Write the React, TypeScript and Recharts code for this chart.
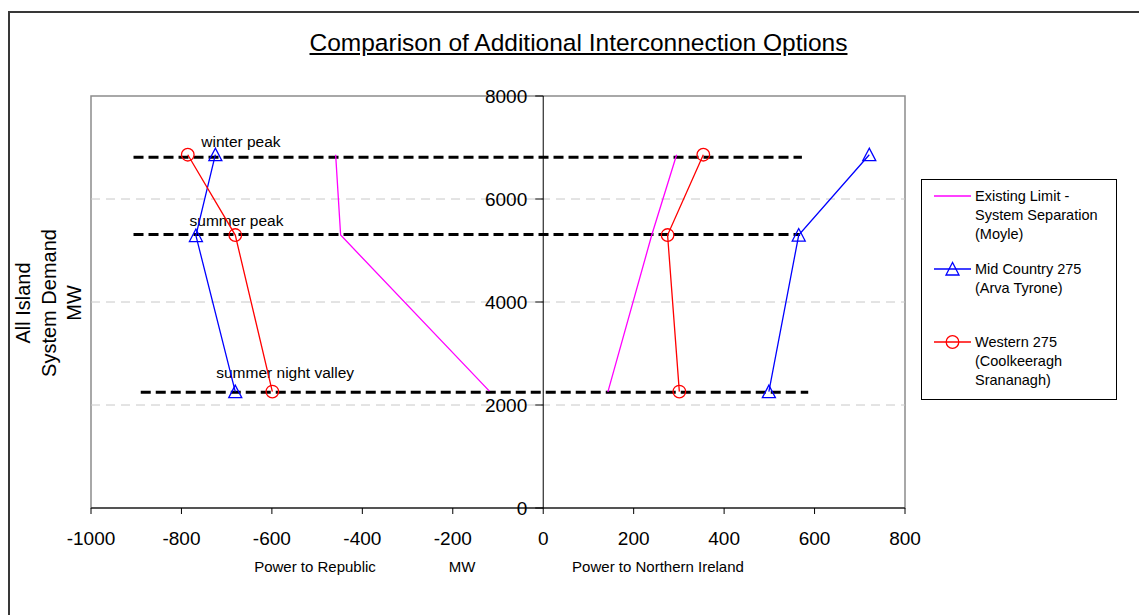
import React from 'react';
import { ScatterChart, Scatter, XAxis, YAxis, ReferenceLine, ReferenceDot, ReferenceArea } from 'recharts';

const FONT = '"Liberation Sans", Arial, sans-serif';

const xTicks = [-1000, -800, -600, -400, -200, 0, 200, 400, 600, 800];
const yTicks = [0, 2000, 4000, 6000, 8000];
const gridY = [2000, 4000, 6000];

const existingLeft = [{ x: -459, y: 6860 }, { x: -448, y: 5300 }, { x: -119, y: 2270 }];
const existingRight = [{ x: 143, y: 2255 }, { x: 240, y: 5300 }, { x: 295, y: 6860 }];
const midLeft = [{ x: -725, y: 6860 }, { x: -768, y: 5290 }, { x: -681, y: 2260 }];
const midRight = [{ x: 499, y: 2260 }, { x: 565, y: 5300 }, { x: 721, y: 6860 }];
const westLeft = [{ x: -786, y: 6860 }, { x: -681, y: 5300 }, { x: -599, y: 2260 }];
const westRight = [{ x: 301, y: 2260 }, { x: 275, y: 5300 }, { x: 354, y: 6860 }];

const levelNames = ['winter peak', 'summer peak', 'summer night valley'];
const levelY = [6810, 5310, 2250];
const levelXStart = [-906, -906, -890];
const levelXEnd = [572, 568, 586];
const labelX = [-756, -782, -723];
const labelY = [7126, 5592, 2627];

const title = 'Comparison of Additional Interconnection Options';
const yLabelLines = ['All Island', 'System Demand', 'MW'];
const legendLines = [
  ['Existing Limit -', 'System Separation', '(Moyle)'],
  ['Mid Country 275', '(Arva Tyrone)'],
  ['Western 275', '(Coolkeeragh', 'Srananagh)'],
];
const MAGENTA = '#ff00ff';
const BLUE = '#0000ff';
const RED = '#ff0000';

const Triangle = (props: any) => {
  const { cx, cy } = props;
  if (cx == null || cy == null) return <g />;
  return (
    <polygon
      points={`${cx},${cy - 6.5} ${cx - 6.5},${cy + 6} ${cx + 6.5},${cy + 6}`}
      fill="none"
      stroke={BLUE}
      strokeWidth={1.3}
    />
  );
};

const Circle = (props: any) => {
  const { cx, cy } = props;
  if (cx == null || cy == null) return <g />;
  return <circle cx={cx} cy={cy} r={6.3} fill="none" stroke={RED} strokeWidth={1.3} />;
};

const NoMarker = () => <g />;

const YTick = (value: number) => (props: any) => {
  const { cx, cy } = props;
  return (
    <g>
      <line x1={cx - 8} y1={cy} x2={cx} y2={cy} stroke="#000" strokeWidth={1} />
      <text x={cx - 16} y={cy} textAnchor="end" dominantBaseline="central" fontSize={19} fontFamily={FONT} fill="#000">
        {value}
      </text>
    </g>
  );
};

const Annot = (text: string) => (props: any) => {
  const { cx, cy } = props;
  return (
    <text x={cx} y={cy} textAnchor="start" dominantBaseline="central" fontSize={15.5} fontFamily={FONT} fill="#000">
      {text}
    </text>
  );
};

const LegendBox = () => (
  <svg width={197} height={222} style={{ position: 'absolute', left: 921, top: 179 }}>
    <rect x={0.5} y={0.5} width={195} height={220} fill="#fff" stroke="#000" strokeWidth={1} />
    <line x1={13} y1={17} x2={50} y2={17} stroke={MAGENTA} strokeWidth={1.3} />
    <line x1={13} y1={90} x2={50} y2={90} stroke={BLUE} strokeWidth={1.3} />
    <Triangle cx={31.5} cy={90} />
    <line x1={13} y1={163} x2={50} y2={163} stroke={RED} strokeWidth={1.3} />
    <Circle cx={31.5} cy={163} />
    {legendLines.map((lines, i) =>
      lines.map((t, j) => (
        <text
          key={`${i}-${j}`}
          x={54}
          y={[17, 90, 163][i] + j * 19}
          dominantBaseline="central"
          fontSize={14.5}
          fontFamily={FONT}
          fill="#000"
        >
          {t}
        </text>
      ))
    )}
  </svg>
);

export default function App() {
  return (
    <div style={{ position: 'relative', width: 1139, height: 615, overflow: 'hidden', background: '#fff', fontFamily: FONT }}>
      <style>{`body{margin:0;overflow:hidden;}`}</style>
      <div style={{ position: 'absolute', left: 8, top: 11, width: 1200, height: 700, border: '2px solid #383838' }} />
      <div
        style={{
          position: 'absolute',
          left: 0,
          width: 1157,
          top: 29,
          textAlign: 'center',
          fontSize: 24.5,
          textDecoration: 'underline',
          color: '#000',
          lineHeight: '28px',
        }}
      >
        {title}
      </div>
      <div
        style={{
          position: 'absolute',
          left: 49 - 150,
          top: 303 - 38,
          width: 300,
          height: 76,
          transform: 'rotate(-90deg)',
          textAlign: 'center',
          fontSize: 20,
          lineHeight: '25.5px',
          color: '#000',
        }}
      >
        {yLabelLines.map((l) => (
          <div key={l}>{l}</div>
        ))}
      </div>
      <div style={{ position: 'absolute', left: 0, top: 0 }}>
        <ScatterChart width={1139} height={615} margin={{ top: 96, right: 234, bottom: 62, left: 91 }}>
          <XAxis
            type="number"
            dataKey="x"
            domain={[-1000, 800]}
            ticks={xTicks}
            interval={0}
            height={45}
            axisLine={{ stroke: '#000', strokeWidth: 1 }}
            tickLine={{ stroke: '#000', strokeWidth: 1 }}
            tickSize={6}
            tickMargin={18}
            tick={{ fontSize: 19, fill: '#000', fontFamily: FONT }}
            allowDataOverflow
          />
          <YAxis type="number" dataKey="y" domain={[0, 8000]} ticks={yTicks} hide allowDataOverflow />
          <ReferenceArea x1={-1000} x2={800} y1={0} y2={8000} fill="none" stroke="#8c8c8c" strokeWidth={1.5} ifOverflow="visible" />
          {gridY.map((g) => (
            <ReferenceLine key={g} y={g} stroke="#c8c8c8" strokeDasharray="9 6" strokeWidth={1} />
          ))}
          <ReferenceLine x={0} stroke="#000" strokeWidth={1} ifOverflow="visible" />
          {yTicks.map((t) => (
            <ReferenceDot key={`yt${t}`} x={0} y={t} r={0} ifOverflow="visible" shape={YTick(t)} />
          ))}
          {levelNames.map((n, i) => (
            <ReferenceLine
              key={n}
              segment={[
                { x: levelXStart[i], y: levelY[i] },
                { x: levelXEnd[i], y: levelY[i] },
              ]}
              stroke="#000"
              strokeWidth={3}
              strokeDasharray="10 5"
            />
          ))}
          {levelNames.map((n, i) => (
            <ReferenceDot key={`lab${n}`} x={labelX[i]} y={labelY[i]} r={0} ifOverflow="visible" shape={Annot(n)} />
          ))}
          <Scatter data={existingLeft} fill="none" stroke={MAGENTA} line={{ stroke: MAGENTA, strokeWidth: 1.3 }} lineType="joint" shape={NoMarker} isAnimationActive={false} />
          <Scatter data={existingRight} fill="none" stroke={MAGENTA} line={{ stroke: MAGENTA, strokeWidth: 1.3 }} lineType="joint" shape={NoMarker} isAnimationActive={false} />
          <Scatter data={midLeft} fill="none" stroke={BLUE} line={{ stroke: BLUE, strokeWidth: 1.3 }} lineType="joint" shape={Triangle} isAnimationActive={false} />
          <Scatter data={midRight} fill="none" stroke={BLUE} line={{ stroke: BLUE, strokeWidth: 1.3 }} lineType="joint" shape={Triangle} isAnimationActive={false} />
          <Scatter data={westLeft} fill="none" stroke={RED} line={{ stroke: RED, strokeWidth: 1.3 }} lineType="joint" shape={Circle} isAnimationActive={false} />
          <Scatter data={westRight} fill="none" stroke={RED} line={{ stroke: RED, strokeWidth: 1.3 }} lineType="joint" shape={Circle} isAnimationActive={false} />
        </ScatterChart>
      </div>
      <div style={{ position: 'absolute', left: 315, top: 566, transform: 'translate(-50%,-50%)', fontSize: 15, whiteSpace: 'nowrap' }}>Power to Republic</div>
      <div style={{ position: 'absolute', left: 462, top: 566, transform: 'translate(-50%,-50%)', fontSize: 15, whiteSpace: 'nowrap' }}>MW</div>
      <div style={{ position: 'absolute', left: 658, top: 566, transform: 'translate(-50%,-50%)', fontSize: 15, whiteSpace: 'nowrap' }}>Power to Northern Ireland</div>
      <LegendBox />
    </div>
  );
}
